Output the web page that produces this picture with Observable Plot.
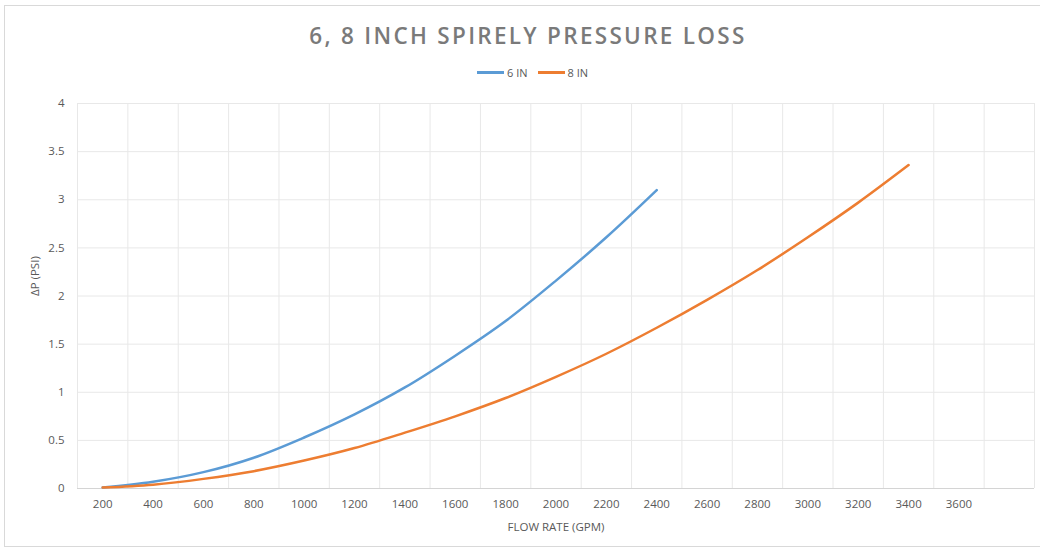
<!DOCTYPE html>
<html><head><meta charset="utf-8">
<script src="https://cdn.jsdelivr.net/npm/d3@7"></script>
<script src="https://cdn.jsdelivr.net/npm/@observablehq/plot@0.6"></script>
<style>
body{margin:0;background:#fff;font-family:"Open Sans",sans-serif;}
#wrap{position:relative;width:1040px;height:549px;overflow:hidden;background:#fff;}
#border{position:absolute;left:4px;top:5px;width:1100px;height:542px;border:1px solid #d9d9d9;box-sizing:border-box;}
#title{position:absolute;top:20px;left:0;width:1056px;text-align:center;font-size:22.5px;font-weight:600;letter-spacing:2.3px;color:#7a7a7a;line-height:32px;}
#legend{position:absolute;top:65px;left:0;width:1065px;display:flex;justify-content:center;align-items:center;font-size:11px;color:#595959;gap:10px;}
.item{display:flex;align-items:center;gap:3px;}
.sw{display:inline-block;width:27px;height:2.5px;}
#chart{position:absolute;left:0;top:90px;}
</style></head>
<body>
<div id="wrap">
<div id="border"></div>
<div id="title"></div>
<div id="legend"></div>
<div id="chart"></div>
</div>
<script>
const titleText = "6, 8 INCH SPIRELY PRESSURE LOSS";
const xLabelText = "FLOW RATE (GPM)";
const yLabelText = "ΔP (PSI)";
const seriesNames = ["6 IN", "8 IN"];
const seriesColors = ["#5B9BD5", "#ED7D31"];

const flow6 = [200, 400, 600, 800, 1000, 1200, 1400, 1600, 1800, 2000, 2200, 2400];
const dp6   = [0.01, 0.07, 0.17, 0.32, 0.53, 0.77, 1.05, 1.38, 1.74, 2.16, 2.61, 3.10];
const flow8 = [200, 400, 600, 800, 1000, 1200, 1400, 1600, 1800, 2000, 2200, 2400, 2600, 2800, 3000, 3200, 3400];
const dp8   = [0.01, 0.04, 0.10, 0.18, 0.29, 0.42, 0.58, 0.75, 0.94, 1.16, 1.40, 1.67, 1.96, 2.27, 2.61, 2.97, 3.36];

const xTicks = [200, 400, 600, 800, 1000, 1200, 1400, 1600, 1800, 2000, 2200, 2400, 2600, 2800, 3000, 3200, 3400, 3600];
const xGrid  = [100, 300, 500, 700, 900, 1100, 1300, 1500, 1700, 1900, 2100, 2300, 2500, 2700, 2900, 3100, 3300, 3500, 3700, 3900];
const yTicks = [0, 0.5, 1, 1.5, 2, 2.5, 3, 3.5, 4];
const yTickLabels = ["0", "0.5", "1", "1.5", "2", "2.5", "3", "3.5", "4"];

document.getElementById("title").textContent = titleText;
const legend = document.getElementById("legend");
seriesNames.forEach((n, i) => {
  const it = document.createElement("div"); it.className = "item";
  const sw = document.createElement("span"); sw.className = "sw"; sw.style.background = seriesColors[i];
  const tx = document.createElement("span"); tx.textContent = n;
  it.appendChild(sw); it.appendChild(tx); legend.appendChild(it);
});

const d6 = flow6.map((f, i) => ({flow: f, dp: dp6[i], series: seriesNames[0]}));
const d8 = flow8.map((f, i) => ({flow: f, dp: dp8[i], series: seriesNames[1]}));

const chart = Plot.plot({
  width: 1040, height: 459,
  marginLeft: 77, marginRight: 6, marginTop: 13, marginBottom: 61,
  x: {type: "linear", domain: [100, 3900]},
  y: {domain: [0, 4]},
  style: {fontFamily: "'Open Sans', sans-serif", fontSize: "11.5px", color: "#595959", background: "transparent"},
  marks: [
    Plot.ruleY(yTicks.filter(d => d > 0), {stroke: "#e8e8e8", strokeWidth: 1}),
    Plot.ruleX(xGrid, {stroke: "#e8e8e8", strokeWidth: 1}),
    Plot.ruleY([0], {stroke: "#d4d4d4", strokeWidth: 1}),
    Plot.axisX({ticks: xTicks, tickSize: 0, tickPadding: 11, tickFormat: d => String(d), label: null, fill: "#595959"}),
    Plot.axisY({ticks: yTicks, tickSize: 0, tickPadding: 13, tickFormat: d => yTickLabels[yTicks.indexOf(d)], label: null, fill: "#595959"}),
    Plot.line(d6, {x: "flow", y: "dp", stroke: seriesColors[0], strokeWidth: 2.5, curve: "catmull-rom"}),
    Plot.line(d8, {x: "flow", y: "dp", stroke: seriesColors[1], strokeWidth: 2.5, curve: "catmull-rom"}),
    Plot.text([xLabelText], {text: d => d, frameAnchor: "bottom", dy: 39, lineAnchor: "middle", fill: "#595959", fontSize: 11.5}),
    Plot.text([yLabelText], {text: d => d, frameAnchor: "left", dx: -42, rotate: -90, lineAnchor: "middle", fill: "#595959", fontSize: 11.5})
  ]
});
document.getElementById("chart").appendChild(chart);
</script>
</body></html>
